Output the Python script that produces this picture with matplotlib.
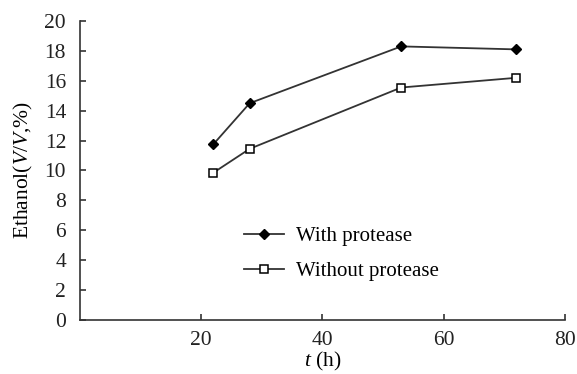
import matplotlib
matplotlib.use("Agg")
import matplotlib.pyplot as plt

# data
time_h = [22, 28, 53, 72]
with_protease = [11.75, 14.5, 18.3, 18.1]
without_protease = [9.85, 11.45, 15.55, 16.2]
y_ticks = [0, 2, 4, 6, 8, 10, 12, 14, 16, 18, 20]
x_ticks = [20, 40, 60, 80]

plt.rcParams["font.family"] = "Liberation Serif"
plt.rcParams["mathtext.fontset"] = "custom"
plt.rcParams["mathtext.rm"] = "Liberation Serif"
plt.rcParams["mathtext.it"] = "Liberation Serif:italic"

fig = plt.figure(figsize=(5.77, 3.74), dpi=100)
ax = fig.add_axes([0.1386, 0.1444, 0.8404, 0.7995])

ax.plot(time_h, with_protease, color="#333333", lw=1.3, marker="D",
        ms=5, mfc="black", mec="black", label="With protease")
ax.plot(time_h, without_protease, color="#333333", lw=1.3, marker="s",
        ms=5.5, mfc="white", mec="black", mew=1.1, label="Without protease")

ax.set_xlim(0, 80)
ax.set_ylim(0, 20)
ax.set_xticks(x_ticks)
ax.set_yticks(y_ticks)
ax.tick_params(direction="in", length=4, width=1.1, labelsize=15.5, colors="#222222")
ax.tick_params(axis="x", pad=8)
ax.tick_params(axis="y", pad=10)

for side in ["top", "right"]:
    ax.spines[side].set_visible(False)
for side in ["left", "bottom"]:
    ax.spines[side].set_linewidth(1.2)
    ax.spines[side].set_color("#333333")

ax.set_xlabel("$t$ (h)", fontsize=15.5, labelpad=0)
ax.set_ylabel("Ethanol($V$/$V$,%)", fontsize=15.5, labelpad=7)

ax.legend(loc="upper left", bbox_to_anchor=(0.3, 0.375), frameon=False,
          fontsize=15, handlelength=1.9, handletextpad=0.6, labelspacing=0.75)

fig.savefig("out.png", dpi=100)
